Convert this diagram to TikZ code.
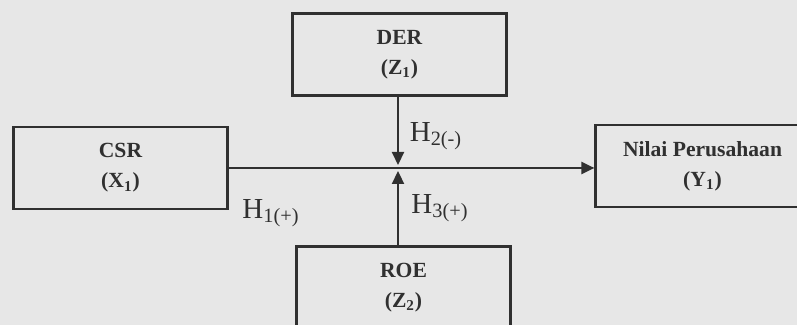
\documentclass[tikz,border=0pt]{standalone}
\usepackage{fontspec}
\setmainfont{Liberation Serif}
\usetikzlibrary{arrows.meta, positioning}
\definecolor{paper}{HTML}{E7E7E7}
\definecolor{ink}{HTML}{303030}

\begin{document}
\begin{tikzpicture}[x=0.5pt, y=0.5pt,
  varbox/.style={
    draw=ink, line width=1.1pt, fill=paper, minimum width=107pt, minimum height=41pt,
    font=\bfseries\fontsize{10.8}{15}\selectfont, align=center, text=ink
  },
  link/.style={-{Triangle[length=6.5pt,width=6pt]}, line width=1.1pt, draw=ink},
  hyp/.style={font=\fontsize{14.5}{15}\selectfont, text=ink}
]

% --- Paper and page frame ---
\useasboundingbox (0,0) rectangle (797,325);
\fill[paper] (0,0) rectangle (797,325);
\clip (0,0) rectangle (797,325);

% --- Variables ---
\node[varbox] (csr) at (120.5,157) {CSR\\(X\textsubscript{1})};
\node[varbox] (der) at (399.5,270.5) {DER\\(Z\textsubscript{1})};
\node[varbox] (roe) at (403.5,37.5) {ROE\\(Z\textsubscript{2})};
\node[varbox] (nilai) at (702.5,159) {Nilai Perusahaan\\(Y\textsubscript{1})};

% --- Main path and moderating arrows ---
\coordinate (junc) at (398,157);
\draw[link] (csr.east) -- (csr.east -| nilai.west);
\draw[link, shorten >=1.5pt] (der.south -| junc) -- (junc);
\draw[link, shorten >=1.5pt] (roe.north -| junc) -- (junc);

% --- Hypotheses ---
\node[hyp] (h1) at (271,112) {H\textsubscript{1(+)}};
\node[hyp] (h2) at (436,189) {H\textsubscript{2(-)}};
\node[hyp] (h3) at (440,117) {H\textsubscript{3(+)}};

\end{tikzpicture}
\end{document}
